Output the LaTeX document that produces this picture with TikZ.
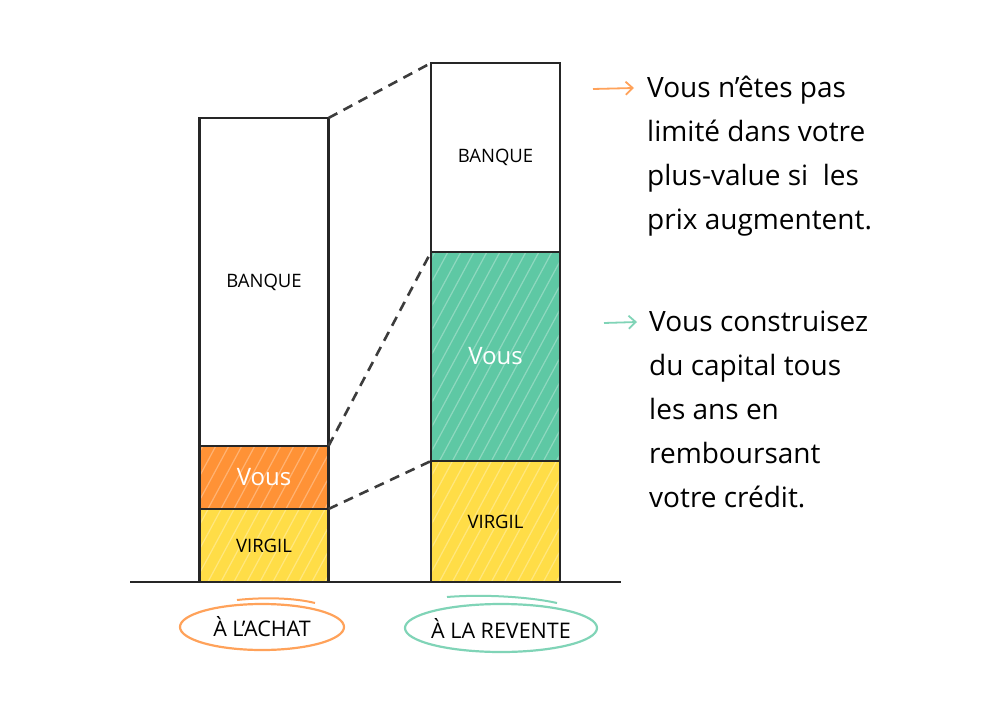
\documentclass[tikz,border=0pt]{standalone}
\usepackage{fontspec}
\setmainfont{Open Sans}
\usetikzlibrary{arrows.meta,shapes.geometric}
\definecolor{cOrange}{HTML}{FF9236}
\definecolor{cYellow}{HTML}{FFDD47}
\definecolor{cTeal}{HTML}{5EC8A4}
\definecolor{cOrangeL}{HTML}{FFA25A}
\definecolor{cTealL}{HTML}{80D4B7}
\definecolor{ink}{HTML}{262626}
\definecolor{dashink}{HTML}{3C3C3C}
\begin{document}
\begin{tikzpicture}[x=1pt,y=-1pt,
  segbox/.style={draw=ink,line width=2.6pt,inner sep=0pt,outer sep=0pt,minimum width=129pt},
  seglabel/.style={font=\fontsize{18.5}{22}\selectfont,text=black},
  vouslabel/.style={font=\fontsize{24}{28}\selectfont,text=white},
  dashline/.style={draw=dashink,line width=2.6pt,dash pattern=on 10pt off 7pt},
  ovalbox/.style={ellipse,line width=2.2pt,inner sep=0pt},
  ovaltext/.style={font=\fontsize{21.5}{24}\selectfont,text=black},
  bodytext/.style={anchor=base west,align=left,inner sep=0pt,font=\fontsize{28}{44}\selectfont},
  bullet/.style={line width=1.8pt,-{Straight Barb[length=7pt,width=13pt]}},
  hatch/.style={white,opacity=0.3,line width=1.2pt}]
\useasboundingbox (0,0) rectangle (990,711);
\fill[white] (0,0) rectangle (990,711);

% base line
\coordinate (g0) at (130,582);
\coordinate (g1) at (621,582);
\draw[ink,line width=2.2pt] (g0) -- (g1);

% left bar (a l'achat)
\node[segbox,fill=white,minimum height=328pt] (lbanque) at (264,282) {};
\node[segbox,fill=cOrange,minimum height=63pt] (lvous) at (264,477.5) {};
\node[segbox,fill=cYellow,minimum height=73pt] (lvirgil) at (264,545.5) {};

% right bar (a la revente)
\node[segbox,fill=white,minimum height=189pt] (rbanque) at (495.5,157.5) {};
\node[segbox,fill=cTeal,minimum height=209pt] (rvous) at (495.5,356.5) {};
\node[segbox,fill=cYellow,minimum height=121pt] (rvirgil) at (495.5,521.5) {};

% light hatching inside coloured blocks
\foreach \nm in {lvous,lvirgil,rvous,rvirgil}{
  \begin{scope}
    \clip ([xshift=1.5pt,yshift=-1.5pt]\nm.north west) rectangle ([xshift=-1.5pt,yshift=1.5pt]\nm.south east);
    \foreach \k in {0,...,30}{
      \draw[hatch] ([xshift=-140pt+\k*13pt,yshift=-10pt]\nm.south west) -- ++(140,-260);
    }
  \end{scope}
}

% redraw borders on top
\foreach \nm in {lbanque,lvous,lvirgil,rbanque,rvous,rvirgil}{
  \draw[ink,line width=2.6pt] (\nm.north west) rectangle (\nm.south east);
}

% labels in blocks
\node[seglabel] (lbanquet) at (lbanque) {BANQUE};
\node[vouslabel] (lvoust) at (lvous) {Vous};
\node[seglabel] (lvirgilt) at (lvirgil) {VIRGIL};
\node[seglabel] (rbanquet) at (rbanque) {BANQUE};
\node[vouslabel] (rvoust) at (rvous) {Vous};
\node[seglabel] (rvirgilt) at (rvirgil) {VIRGIL};

% dashed connectors
\draw[dashline] (lbanque.north east) -- (rbanque.north west);
\draw[dashline] (lvous.north east) -- (rvous.north west);
\draw[dashline] (lvirgil.north east) -- (rvirgil.north west);

% ovals under the bars
\node[ovalbox,draw=cOrangeL,minimum width=164pt,minimum height=46pt] (achat) at (262,627) {};
\draw[cOrangeL,line width=2pt] (237,600) .. controls (265,597) and (295,598) .. (315,603);
\node[ovaltext] (achatt) at (achat) {À L'ACHAT};
\node[ovalbox,draw=cTealL,minimum width=192pt,minimum height=48pt] (revente) at (501,628) {};
\draw[cTealL,line width=2pt] (447,597) .. controls (485,594) and (530,597) .. (557,603);
\node[ovaltext] (reventet) at (revente) {À LA REVENTE};

% right-hand notes
\coordinate (a1s) at (593,89);
\coordinate (a1e) at (634,88);
\draw[cOrangeL,bullet] (a1s) -- (a1e);
\node[bodytext] (note1) at (647,230) {Vous n’êtes pas\\limité dans votre\\plus-value si\ \ les\\prix augmentent.};

\coordinate (a2s) at (604,323);
\coordinate (a2e) at (637,322);
\draw[cTealL,bullet] (a2s) -- (a2e);
\node[bodytext] (note2) at (649,507) {Vous construisez\\du capital tous\\les ans en\\remboursant\\votre crédit.};
\end{tikzpicture}
\end{document}
